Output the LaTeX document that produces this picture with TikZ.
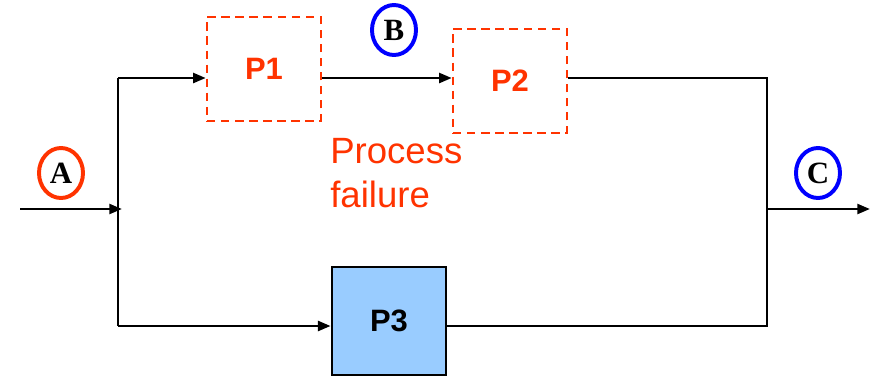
\documentclass[tikz,border=0pt]{standalone}
\usepackage{fontspec}
\setmainfont{Liberation Serif}
\setsansfont{Liberation Sans}
\usetikzlibrary{arrows.meta, shapes.geometric}
\definecolor{failred} {RGB}{255, 51,  0}
\definecolor{markblue}{RGB}{  0,  0,255}
\definecolor{boxblue} {RGB}{153,204,255}

\begin{document}
\begin{tikzpicture}[x=0.025cm, y=-0.025cm,
  wire/.style={line width=1.9pt},
  flow/.style={line width=1.9pt, -{Triangle[length=9pt, width=7pt]}},
  failbox/.style={draw=failred, line width=1.7pt, dash pattern=on 6pt off 4pt,
    minimum width=2.85cm, minimum height=2.6cm, text=failred,
    font=\sffamily\bfseries\fontsize{22}{26}\selectfont},
  okbox/.style={draw=black, fill=boxblue, line width=1.9pt,
    minimum width=2.85cm, minimum height=2.7cm,
    font=\sffamily\bfseries\fontsize{22}{26}\selectfont},
  point/.style={ellipse, line width=2.8pt, minimum width=1.1cm, minimum height=1.25cm,
    inner sep=0pt, font=\bfseries\fontsize{22}{24}\selectfont}]
  \useasboundingbox (0,0) rectangle (877,384);
  % junctions
  \coordinate (in)  at (20,209);
  \coordinate (jin) at (122,209);
  \coordinate (tl)  at (118,78);
  \coordinate (bl)  at (118,326);
  \coordinate (tr)  at (767,78);
  \coordinate (br)  at (767,326);
  \coordinate (jout) at (767,209);
  \coordinate (out) at (870,209);
  % processes
  \node[failbox] (P1) at (264,69)  {P1};
  \node[failbox] (P2) at (510,81)  {P2};
  \node[okbox]   (P3) at (389,321) {P3};
  % points
  \node[point, draw=failred]  (A) at (61,173)  {A};
  \node[point, draw=markblue] (B) at (394,30)  {B};
  \node[point, draw=markblue] (C) at (818,173) {C};
  % flows
  \draw[flow] (in) -- (jin);
  \draw[wire] (tl) -- (bl);
  \draw[flow] (tl) -- (P1.west |- tl);
  \draw[flow] (P1.east |- tl) -- (P2.west |- tl);
  \draw[wire] (P2.east |- tr) -- (tr) -- (br) -- (P3.east |- br);
  \draw[flow] (bl) -- (P3.west |- bl);
  \draw[flow] (jout) -- (out);
  % annotation
  \node[text=failred, align=left, anchor=north west, inner sep=0pt,
    font=\sffamily\fontsize{26}{31}\selectfont] (fail) at (330,138) {Process\\failure};
\end{tikzpicture}
\end{document}
